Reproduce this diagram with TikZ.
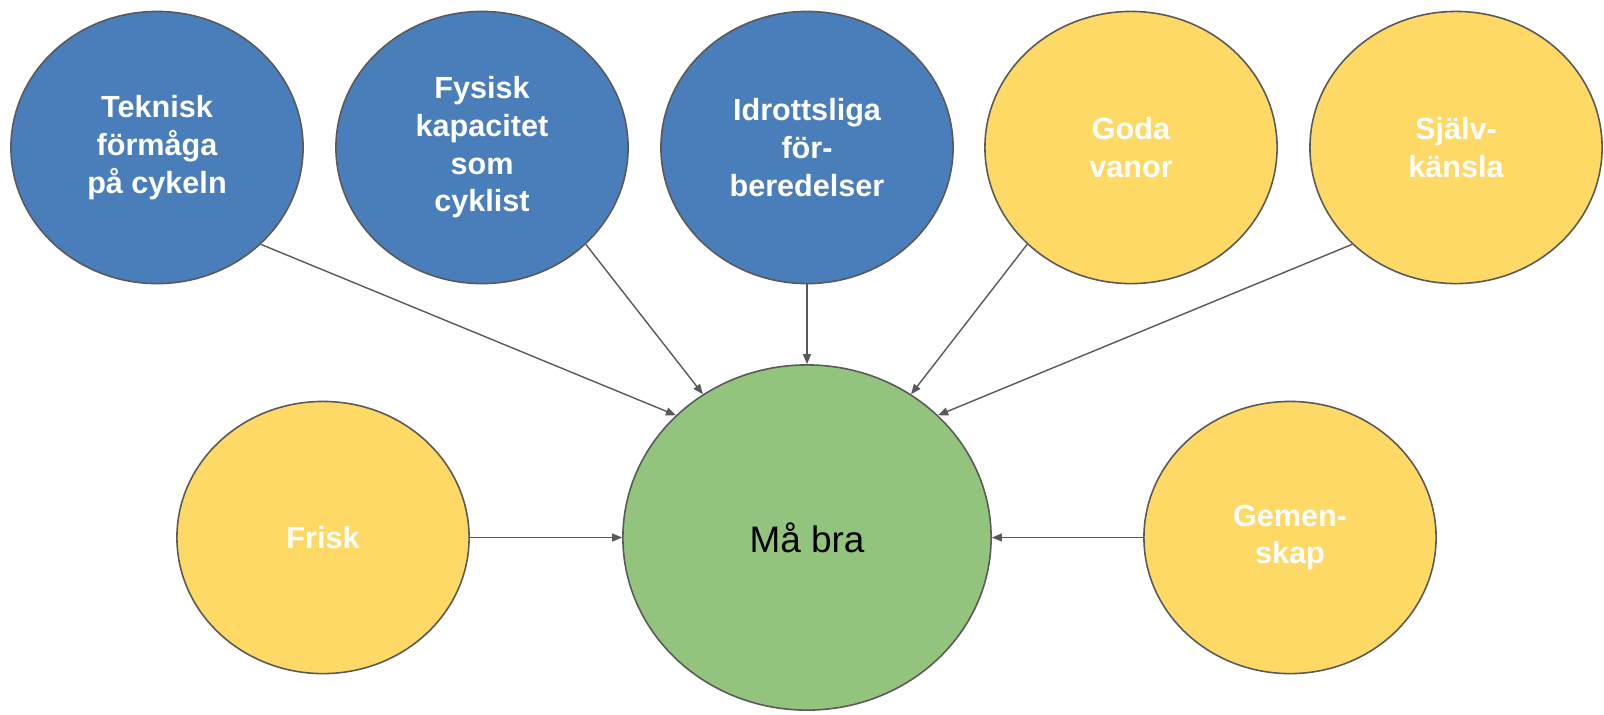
\documentclass[tikz,border=0pt]{standalone}
\usepackage{fontspec}
\setmainfont{Liberation Sans}
\usetikzlibrary{shapes.geometric,arrows.meta}

\definecolor{ringblue}{HTML}{4A7EBB}
\definecolor{ringyellow}{HTML}{FFD966}
\definecolor{ringgreen}{HTML}{93C47D}
\definecolor{edgegray}{HTML}{595959}

\tikzset{
  factor/.style={ellipse,draw=edgegray,line width=0.45pt,inner sep=0pt,
    minimum width=2.92cm,minimum height=2.72cm,align=center,text=white,
    font=\fontsize{8.7}{10.7}\selectfont\bfseries},
  blueball/.style={factor,fill=ringblue},
  yellowball/.style={factor,fill=ringyellow},
  goal/.style={ellipse,draw=edgegray,line width=0.45pt,fill=ringgreen,inner sep=0pt,
    minimum width=3.68cm,minimum height=3.45cm,font=\fontsize{10.5}{12}\selectfont},
  feed/.style={draw=edgegray,line width=0.4pt,-{Triangle[length=0.1cm,width=0.08cm]}}
}

\begin{document}
\begin{tikzpicture}[x=0.01cm,y=-0.01cm]
      \useasboundingbox (0,0) rectangle (1604,714);

      % top row
      \node [blueball] (tek) at (157,147.5) {Teknisk\\förmåga\\på cykeln};
      \node [blueball] (fys) at (482,147.5) {Fysisk\\kapacitet\\som\\cyklist};
      \node [blueball] (idr) at (807,147.5) {Idrottsliga\\för-\\beredelser};
      \node [yellowball] (goda) at (1131,147.5) {Goda\\vanor};
      \node [yellowball] (sjalv) at (1456,147.5) {Själv-\\känsla};

      % bottom row
      \node [yellowball] (frisk) at (323,537.5) {Frisk};
      \node [goal] (mabra) at (807,537.5) {Må bra};
      \node [yellowball] (gem) at (1290,537.5) {Gemen-\\skap};

      \draw [feed] (tek.-43) -- (mabra.137);
      \draw [feed] (fys.-43) -- (mabra.126);
      \draw [feed] (idr.south) -- (mabra.north);
      \draw [feed] (goda.223) -- (mabra.54);
      \draw [feed] (sjalv.223) -- (mabra.43);
      \draw [feed] (frisk.east) -- (mabra.west);
      \draw [feed] (gem.west) -- (mabra.east);
    \end{tikzpicture}
\end{document}
